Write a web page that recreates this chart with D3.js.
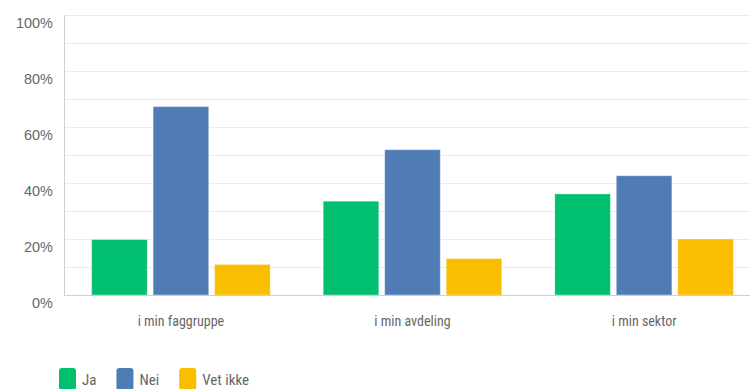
<!DOCTYPE html>
<html><head><meta charset="utf-8"><script src="https://cdn.jsdelivr.net/npm/d3@7"></script>
<style>
  body { margin: 0; background: #fff; }
  text { font-family: 'Roboto Condensed', 'Roboto', sans-serif; fill: #666; }
</style></head>
<body>
<svg id="chart" width="750" height="389"></svg>
<script>
// Survey answers per scope, in percent of respondents
const categories = ["i min faggruppe", "i min avdeling", "i min sektor"];
const seriesNames = ["Ja", "Nei", "Vet ikke"];
const ja = [19.8, 33.5, 36.1];
const nei = [67.3, 51.9, 42.6];
const vetIkke = [10.9, 13.0, 20.0];
const yTicks = [0, 20, 40, 60, 80, 100];
const gridValues = [10, 20, 30, 40, 50, 60, 70, 80, 90, 100];
const colors = ["#00bf6f", "#507cb6", "#f9be00"];

const series = [ja, nei, vetIkke];
const svg = d3.select("#chart");

const x0 = d3.scaleBand().domain(categories).range([65, 760])
  .paddingInner(0.229).paddingOuter(0.115);
const x1 = d3.scaleBand().domain(seriesNames).range([0, x0.bandwidth()])
  .paddingInner(0.096).paddingOuter(0);
const y = d3.scaleLinear().domain([0, 100]).range([295, 15]);
const color = d3.scaleOrdinal().domain(seriesNames).range(colors);

// horizontal gridlines
svg.append("g").selectAll("line").data(gridValues).join("line")
  .attr("x1", 65).attr("x2", 750)
  .attr("y1", d => y(d) + 0.5).attr("y2", d => y(d) + 0.5)
  .attr("stroke", "#ececec").attr("stroke-width", 1);

// y axis labels sit just below their gridline
svg.append("g").selectAll("text").data(yTicks).join("text")
  .attr("x", 53).attr("y", d => y(d) + 13)
  .attr("text-anchor", "end")
  .style("font-family", "'Liberation Sans', Arial, sans-serif")
  .style("font-size", "14.5px")
  .text(d => d + "%");

// bars
const groups = svg.append("g").selectAll("g").data(categories).join("g")
  .attr("transform", c => `translate(${x0(c)},0)`);
groups.selectAll("rect")
  .data((c, i) => seriesNames.map((s, k) => ({ s, v: series[k][i] })))
  .join("rect")
  .attr("x", d => x1(d.s))
  .attr("width", x1.bandwidth())
  .attr("y", d => y(d.v))
  .attr("height", d => y(0) - y(d.v))
  .attr("fill", d => color(d.s))
  .attr("stroke", "rgba(255,255,255,0.35)")
  .attr("stroke-width", 1);

// axis lines
svg.append("line").attr("x1", 64.5).attr("x2", 64.5).attr("y1", 15).attr("y2", 295)
  .attr("stroke", "#cfcfcf");
svg.append("line").attr("x1", 64).attr("x2", 750).attr("y1", 295.5).attr("y2", 295.5)
  .attr("stroke", "#cfcfcf");

// category labels
svg.append("g").selectAll("text").data(categories).join("text")
  .attr("x", c => x0(c) + x0.bandwidth() / 2)
  .attr("y", 326)
  .attr("text-anchor", "middle")
  .style("font-size", "14px")
  .text(c => c);

// legend
const legend = svg.append("g");
let lx = 59;
seriesNames.forEach(s => {
  legend.append("rect").attr("x", lx).attr("y", 368).attr("width", 17).attr("height", 22)
    .attr("rx", 3).attr("fill", color(s));
  const t = legend.append("text").attr("x", lx + 23).attr("y", 384.5)
    .style("font-size", "15px").text(s);
  lx += 23 + t.node().getComputedTextLength() + 20;
});
</script></body></html>
